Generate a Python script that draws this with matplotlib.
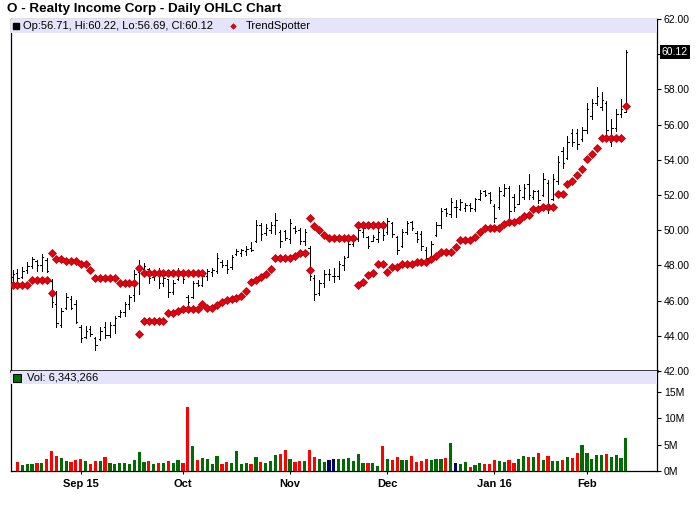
import numpy as np
import matplotlib
matplotlib.use("Agg")
import matplotlib.pyplot as plt
import matplotlib.transforms as mtransforms
from matplotlib.patches import Rectangle
from matplotlib.ticker import FuncFormatter

plt.rcParams['font.family'] = ['Liberation Sans', 'DejaVu Sans']

TITLE = "O - Realty Income Corp - Daily OHLC Chart"

# daily bars, Aug 12 2015 .. Feb 11 2016 (trading days)
opens = [
    47.35, 47.55, 47.35, 47.75, 47.95, 48.25, 48.00, 48.30, 47.10, 45.80,
    44.60, 45.60, 46.10, 45.80, 44.50, 43.95, 44.40, 43.85, 43.80, 44.50,
    44.05, 44.60, 45.10, 45.35, 45.80, 46.30, 47.60, 47.80, 47.80, 47.35,
    47.60, 47.00, 47.20, 46.50, 47.20, 47.50, 46.20, 46.20, 47.00, 46.90,
    47.40, 47.60, 47.70, 48.20, 48.00, 47.90, 48.65, 48.70, 48.80, 49.00,
    49.40, 50.30, 49.85, 50.00, 50.30, 49.90, 49.95, 49.50, 50.15, 50.00,
    49.40, 49.00, 47.30, 46.45, 47.00, 47.50, 47.40, 47.40, 48.00, 48.50,
    49.20, 49.50, 49.90, 49.60, 49.40, 49.50, 50.30, 49.90, 50.40, 49.60,
    49.10, 49.90, 50.45, 49.85, 49.80, 48.90, 48.50, 49.70, 50.30, 51.20,
    50.90, 51.30, 51.20, 51.25, 51.45, 51.20, 51.80, 52.20, 52.10, 51.40,
    51.30, 52.00, 52.40, 51.90, 51.50, 51.90, 52.60, 51.90, 52.20, 52.00,
    52.70, 51.80, 52.80, 54.50, 54.10, 55.50, 55.50, 55.20, 55.70, 56.50,
    57.20, 57.00, 57.20, 55.00, 55.80, 56.60, 56.71,
]
highs = [
    47.71, 47.80, 47.90, 48.18, 48.48, 48.33, 48.66, 48.42, 47.23, 46.56,
    45.57, 46.43, 46.24, 46.05, 44.62, 44.53, 44.56, 43.92, 44.49, 44.77,
    44.81, 45.13, 45.48, 45.91, 46.33, 47.75, 48.32, 48.16, 47.85, 47.75,
    47.85, 47.51, 47.24, 47.19, 47.85, 47.57, 46.33, 47.13, 47.19, 47.57,
    47.81, 47.85, 48.70, 48.32, 48.32, 48.61, 48.93, 48.93, 49.08, 49.31,
    50.57, 50.41, 50.36, 50.47, 50.98, 50.03, 50.03, 50.66, 50.22, 50.13,
    50.07, 49.12, 47.47, 47.19, 47.75, 47.79, 47.85, 48.23, 48.51, 49.31,
    49.60, 50.13, 50.22, 49.65, 49.75, 50.09, 50.51, 50.70, 50.47, 49.69,
    50.09, 50.51, 50.55, 49.94, 49.94, 49.05, 49.40, 50.45, 51.27, 51.27,
    51.84, 51.70, 51.78, 51.57, 51.52, 51.84, 52.26, 52.30, 52.19, 51.50,
    52.48, 52.65, 52.52, 52.03, 52.54, 52.60, 53.17, 52.30, 52.29, 53.26,
    52.85, 53.17, 54.21, 54.74, 55.35, 55.73, 55.73, 55.88, 57.21, 57.44,
    58.14, 57.86, 57.35, 56.30, 56.87, 57.48, 60.22,
]
lows = [
    47.13, 47.09, 47.28, 47.58, 47.88, 47.69, 47.68, 47.60, 45.62, 44.49,
    44.49, 45.53, 45.53, 44.72, 43.67, 43.86, 43.99, 43.20, 43.77, 43.90,
    43.92, 44.15, 45.06, 45.10, 45.55, 46.00, 46.38, 47.50, 46.99, 47.19,
    46.71, 46.81, 46.18, 46.37, 47.19, 46.99, 45.67, 46.13, 46.81, 46.84,
    47.19, 47.38, 47.57, 47.90, 47.56, 47.79, 48.61, 48.51, 48.61, 48.80,
    49.31, 49.46, 49.75, 49.84, 49.79, 49.05, 49.46, 49.27, 49.84, 49.22,
    49.18, 47.15, 46.01, 46.33, 46.80, 47.19, 47.03, 47.22, 47.75, 48.48,
    49.08, 49.41, 49.62, 48.99, 49.37, 49.33, 49.47, 49.81, 49.60, 48.67,
    49.05, 49.81, 49.99, 49.31, 48.89, 48.23, 48.46, 49.66, 50.13, 50.79,
    50.75, 50.75, 51.14, 51.11, 51.11, 51.11, 51.71, 51.93, 51.55, 50.45,
    51.19, 51.93, 50.51, 51.08, 51.46, 51.78, 51.76, 51.80, 51.57, 51.93,
    50.98, 51.74, 52.60, 53.55, 54.02, 54.78, 54.59, 55.07, 55.54, 56.34,
    57.10, 56.83, 55.45, 54.78, 55.64, 56.45, 56.69,
]
closes = [
    47.50, 47.30, 47.70, 47.95, 48.35, 48.00, 48.45, 47.70, 45.90, 44.70,
    45.40, 46.20, 45.60, 44.80, 43.90, 44.30, 44.10, 43.50, 44.30, 44.05,
    44.60, 45.00, 45.35, 45.80, 46.20, 47.50, 47.80, 47.95, 47.30, 47.60,
    47.00, 47.30, 46.50, 47.00, 47.60, 47.20, 45.90, 47.00, 46.90, 47.40,
    47.70, 47.75, 48.40, 48.00, 47.80, 48.50, 48.80, 48.85, 48.95, 48.90,
    50.30, 49.80, 50.10, 50.30, 50.60, 49.40, 49.55, 50.40, 49.95, 49.40,
    49.90, 47.40, 46.40, 47.00, 47.50, 47.50, 47.40, 48.10, 48.40, 49.20,
    49.45, 50.00, 50.10, 49.10, 49.60, 49.90, 49.70, 50.50, 49.80, 48.90,
    49.90, 50.40, 50.10, 49.50, 49.10, 48.40, 49.20, 50.30, 51.10, 50.95,
    51.60, 51.30, 51.60, 51.45, 51.25, 51.75, 52.10, 52.00, 51.70, 50.70,
    52.20, 52.40, 51.10, 51.30, 52.30, 52.40, 52.00, 52.20, 51.70, 52.90,
    51.50, 52.90, 53.90, 53.80, 55.00, 55.00, 54.90, 55.70, 56.90, 57.20,
    57.60, 57.40, 55.70, 55.80, 56.60, 56.90, 60.12,
]

# TrendSpotter points (nan = no point that day)
nan = np.nan
trend_upper = [
    nan, nan, nan, nan, nan, nan, nan, nan, 48.70, 48.36,
    48.36, 48.27, 48.27, 48.27, 48.09, 48.09, 47.74, 47.28, 47.28, 47.28,
    47.28, 47.28, 46.99, 46.99, 46.99, 46.99, 47.85, 47.57, 47.57, 47.57,
    47.57, 47.57, 47.57, 47.57, 47.57, 47.57, 47.57, 47.57, 47.57, 47.57,
    nan, nan, nan, nan, nan, nan, nan, nan, nan, nan,
    nan, nan, nan, nan, nan, nan, nan, nan, nan, nan,
    nan, 50.70, 50.26, 50.01, 49.73, 49.56, 49.56, 49.56, 49.56, 49.56,
    49.56, 50.32, 50.32, 50.32, 50.32, 50.32, 50.32, nan, nan, nan,
    nan, nan, nan, nan, nan, nan, nan, nan, nan, nan,
    nan, nan, nan, nan, nan, nan, nan, nan, nan, nan,
    nan, nan, nan, nan, nan, nan, nan, nan, nan, nan,
    nan, nan, nan, nan, nan, nan, nan, nan, nan, nan,
    nan, nan, nan, nan, nan, nan, nan,
]
trend_lower = [
    46.90, 46.90, 46.90, 46.90, 47.19, 47.19, 47.19, 47.19, 46.43, nan,
    nan, nan, nan, nan, nan, nan, nan, nan, nan, nan,
    nan, nan, nan, nan, nan, nan, 44.09, 44.83, 44.83, 44.83,
    44.83, 44.83, 45.29, 45.29, 45.42, 45.51, 45.51, 45.51, 45.51, 45.82,
    45.57, 45.57, 45.76, 45.91, 46.03, 46.10, 46.16, 46.25, 46.56, 47.05,
    47.18, 47.34, 47.53, 47.81, 48.42, 48.42, 48.42, 48.42, 48.55, 48.72,
    48.72, 47.75, nan, nan, nan, nan, nan, nan, nan, nan,
    nan, 46.88, 47.05, 47.43, 47.57, 48.08, 48.08, 47.62, 47.91, 47.91,
    48.08, 48.08, 48.08, 48.19, 48.19, 48.19, 48.37, 48.55, 48.76, 48.76,
    48.76, 49.05, 49.45, 49.45, 49.45, 49.60, 49.91, 50.13, 50.13, 50.13,
    50.13, 50.38, 50.45, 50.45, 50.57, 50.81, 50.88, 51.21, 51.21, 51.33,
    51.33, 51.33, 52.08, 52.08, 52.64, 52.79, 53.11, 53.49, 54.06, 54.35,
    54.69, 55.24, 55.24, 55.24, 55.24, 55.24, 57.06,
]

# volume in millions, first day not shown
volume = [
    nan, 1.76, 1.19, 1.38, 1.38, 1.57, 1.57, 2.33, 3.84, 2.89,
    2.52, 1.95, 1.76, 2.14, 2.33, 1.95, 1.45, 1.95, 1.95, 2.70,
    1.57, 1.38, 1.57, 1.57, 1.38, 2.14, 3.65, 1.76, 1.95, 1.38,
    1.57, 1.57, 1.95, 1.57, 2.14, 1.57, 12.14, 4.78, 2.14, 2.52,
    2.33, 1.38, 2.89, 1.38, 1.76, 1.57, 3.84, 1.38, 1.57, 1.38,
    2.70, 1.76, 1.57, 1.95, 3.08, 3.27, 4.03, 2.33, 1.76, 1.95,
    1.95, 4.03, 2.70, 2.33, 1.76, 2.20, 2.26, 2.30, 2.30, 2.48,
    1.92, 3.24, 1.54, 1.54, 1.55, 0.98, 4.74, 2.30, 2.11, 2.67,
    2.11, 2.11, 2.86, 1.73, 1.92, 2.30, 2.11, 2.30, 2.30, 2.48,
    5.32, 1.55, 1.38, 1.76, 0.82, 1.19, 1.57, 1.38, 1.38, 2.14,
    1.95, 1.76, 2.14, 1.57, 2.33, 2.89, 2.70, 2.70, 3.46, 2.14,
    2.89, 1.95, 1.95, 2.14, 2.70, 2.52, 3.46, 4.97, 3.46, 2.33,
    3.08, 3.08, 3.27, 2.70, 3.08, 2.52, 6.343266,
]
# u = up day, d = down day, n = unchanged
vol_dir = list(
    "-duuududdd" "uuddduddud" "uuuuuuuudu" "duduuddudu"
    "uuudduuuud" "uduuuddudd" "udduunnuuu" "uuuduududd"
    "uudddduuud" "unuuduuddd" "uudduududu" "duududduuu"
    "uuduuuu"
)

tick_pos = [14, 35, 57, 77, 99, 118]
tick_labels = ["Sep 15", "Oct", "Nov", "Dec", "Jan 16", "Feb"]

dir_colors = {"u": "#006b00", "d": "#ff0000", "n": "#000070", "-": "#006b00"}

x = np.arange(len(closes))

fig = plt.figure(figsize=(7, 5.12), dpi=100)
ax = fig.add_axes([0.0153, 0.2754, 0.9233, 0.6875])
axv = fig.add_axes([0.0153, 0.0795, 0.9233, 0.1959], sharex=ax)

# OHLC bars
ax.vlines(x, lows, highs, color="black", lw=0.7, antialiased=False, zorder=3)
ax.hlines(opens, x - 0.3, x, color="black", lw=0.7, antialiased=False, zorder=3)
ax.hlines(closes, x, x + 0.3, color="black", lw=0.7, antialiased=False, zorder=3)

dot_style = dict(ls="none", marker="D", ms=3.6, mfc="#e60012", mec="#a80000", mew=0.5, zorder=4)
ax.plot(x, trend_upper, **dot_style)
ax.plot(x, trend_lower, **dot_style)

ax.set_xlim(-0.39, 132.4)
ax.set_ylim(42, 62)

# header band
ax.add_patch(Rectangle((0, 0.96), 1, 0.04, transform=ax.transAxes,
                       facecolor="#e4e4fa", edgecolor="none", zorder=5))
ax.plot([0.0085], [0.98], marker="s", ms=4.5, color="black", transform=ax.transAxes,
        clip_on=False, zorder=6)
ohlc_txt = "Op:%.2f, Hi:%.2f, Lo:%.2f, Cl:%.2f" % (opens[-1], highs[-1], lows[-1], closes[-1])
ax.text(0.0195, 0.98, ohlc_txt, transform=ax.transAxes, fontsize=8, va="center", zorder=6)
ax.plot([0.344], [0.98], marker="D", ms=2.8, mfc="#e60012", mec="#a80000", mew=0.4,
        transform=ax.transAxes, clip_on=False, zorder=6)
ax.text(0.364, 0.98, "TrendSpotter", transform=ax.transAxes, fontsize=8, va="center", zorder=6)

ax.yaxis.tick_right()
ax.set_yticks(np.arange(42, 63, 2))
ax.yaxis.set_major_formatter(FuncFormatter(
    lambda v, p: "" if abs(v - closes[-1]) < 0.5 else "%.2f" % v))
ax.tick_params(axis="y", direction="out", length=3, width=0.8, pad=2, labelsize=7.5)
ax.tick_params(axis="x", which="both", bottom=False, labelbottom=False)

trans = mtransforms.blended_transform_factory(ax.transAxes, ax.transData)
ax.text(1.0075, closes[-1], "%.2f" % closes[-1], transform=trans, color="white",
        fontsize=7.5, va="center", ha="left",
        bbox=dict(facecolor="black", edgecolor="none", pad=1.2))

for s in ["left", "right", "top"]:
    ax.spines[s].set_linewidth(0.9)
ax.spines["bottom"].set_linewidth(1.8)

# volume
vol = np.array(volume, dtype=float)
ok = np.isfinite(vol)
bar_colors = [dir_colors[d] for d in vol_dir]
axv.bar(x[ok], vol[ok], width=0.66, color=[c for c, k in zip(bar_colors, ok) if k],
        linewidth=0, zorder=3)
axv.set_ylim(0, 18.92)

axv.add_patch(Rectangle((0, 0.87), 1, 0.13, transform=axv.transAxes,
                        facecolor="#e4e4fa", edgecolor="none", zorder=5))
axv.plot([0.0095], [0.935], marker="s", ms=5.5, mfc="#006b00", mec="black", mew=0.7,
         transform=axv.transAxes, clip_on=False, zorder=6)
axv.text(0.0245, 0.935, "Vol: {:,}".format(int(round(volume[-1] * 1e6))),
         transform=axv.transAxes, fontsize=8, va="center", zorder=6)

axv.yaxis.tick_right()
axv.set_yticks([0, 5, 10, 15])
axv.yaxis.set_major_formatter(FuncFormatter(lambda v, p: "%dM" % v))
axv.tick_params(axis="y", direction="out", length=3, width=0.8, pad=2, labelsize=7.5)

axv.set_xticks(tick_pos)
axv.set_xticklabels(tick_labels, fontweight="bold")
axv.tick_params(axis="x", direction="out", length=2.5, width=0.8, pad=3, labelsize=8)

axv.spines["top"].set_visible(False)
for s in ["left", "right", "bottom"]:
    axv.spines[s].set_linewidth(0.9)

fig.text(0.0095, 0.983, TITLE, fontsize=9.7, fontweight="bold", va="center", ha="left")

fig.savefig("out.png", dpi=100)
